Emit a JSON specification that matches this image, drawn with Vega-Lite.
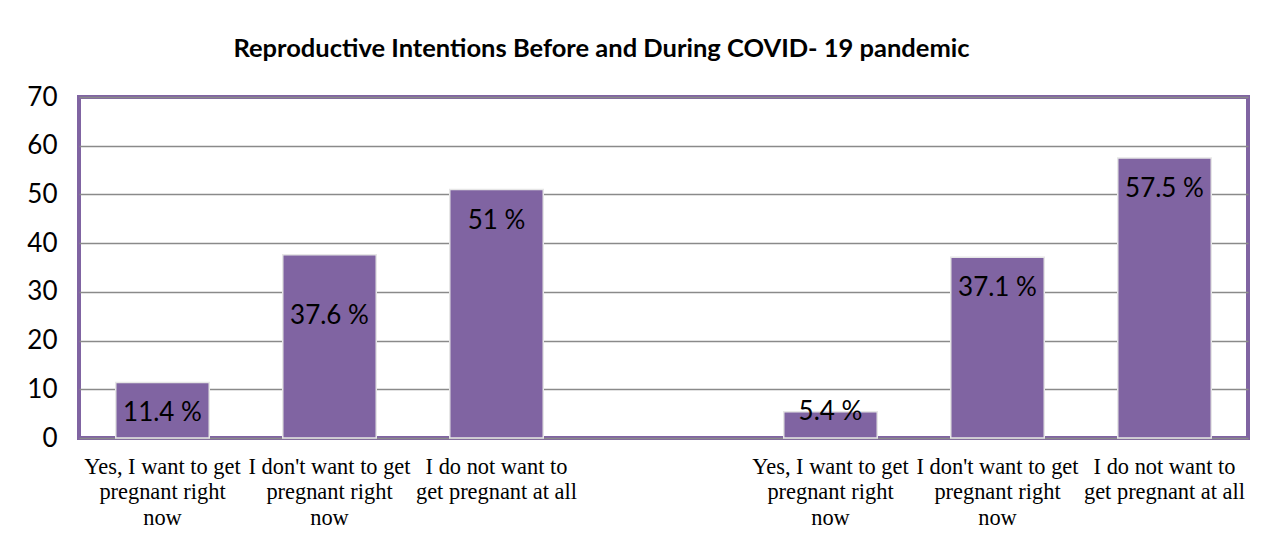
{
  "$schema": "https://vega.github.io/schema/vega-lite/v6.json",
  "autosize": {"type": "none"},
  "width": 1169,
  "height": 341,
  "padding": {"left": 79, "top": 97, "right": 21, "bottom": 104},
  "background": "white",
  "title": {
    "text": "Reproductive Intentions Before and During COVID- 19 pandemic",
    "font": "Lato",
    "fontSize": 25.5,
    "fontWeight": "bold",
    "color": "#000000",
    "anchor": "middle",
    "dx": -62,
    "offset": 22
  },
  "data": {
    "values": [
      {"cat": "1:Yes, I want to get|pregnant right|now", "value": 11.4, "label": "11.4 %"},
      {"cat": "2:I don't want to get|pregnant right|now", "value": 37.6, "label": "37.6 %"},
      {"cat": "3:I do not want to|get pregnant at all", "value": 51, "label": "51 %"},
      {"cat": "5:Yes, I want to get|pregnant right|now", "value": 5.4, "label": "5.4 %"},
      {"cat": "6:I don't want to get|pregnant right|now", "value": 37.1, "label": "37.1 %"},
      {"cat": "7:I do not want to|get pregnant at all", "value": 57.5, "label": "57.5 %"}
    ]
  },
  "encoding": {
    "x": {
      "field": "cat",
      "type": "nominal",
      "scale": {
        "domain": [
          "1:Yes, I want to get|pregnant right|now",
          "2:I don't want to get|pregnant right|now",
          "3:I do not want to|get pregnant at all",
          "4:",
          "5:Yes, I want to get|pregnant right|now",
          "6:I don't want to get|pregnant right|now",
          "7:I do not want to|get pregnant at all"
        ],
        "paddingInner": 0.44,
        "paddingOuter": 0.22
      },
      "axis": {
        "title": null,
        "labelAngle": 0,
        "labelExpr": "split(substring(datum.value, 2), '|')",
        "labelFont": "Liberation Serif",
        "labelFontSize": 22.4,
        "labelColor": "#000000",
        "labelLineHeight": 25.5,
        "labelBaseline": "top",
        "labelPadding": 17,
        "ticks": false,
        "domain": false,
        "labelLimit": 300
      }
    },
    "y": {
      "field": "value",
      "type": "quantitative",
      "scale": {"domain": [0, 70], "nice": false},
      "axis": {
        "title": null,
        "values": [0, 10, 20, 30, 40, 50, 60, 70],
        "labelFont": "Lato",
        "labelFontSize": 26,
        "labelColor": "#000000",
        "labelPadding": 22,
        "ticks": false,
        "domain": false,
        "grid": true,
        "gridColor": "#8a8a8a",
        "gridWidth": 1.5
      }
    }
  },
  "layer": [
    {"mark": {"type": "bar", "color": "#8064A2", "stroke": "#e6e6e6", "strokeWidth": 1.5}},
    {
      "transform": [{"filter": "datum.value > 10 && datum.label != '37.6 %'"}],
      "mark": {"type": "text", "font": "Lato", "fontSize": 26, "color": "#000000", "baseline": "middle", "dy": 31},
      "encoding": {"text": {"field": "label"}}
    },
    {
      "transform": [{"filter": "datum.label == '37.6 %'"}],
      "mark": {"type": "text", "font": "Lato", "fontSize": 26, "color": "#000000", "baseline": "middle", "dy": 61},
      "encoding": {"text": {"field": "label"}}
    },
    {
      "transform": [{"filter": "datum.value < 10"}],
      "mark": {"type": "text", "font": "Lato", "fontSize": 26, "color": "#000000", "baseline": "middle", "dy": 0},
      "encoding": {"text": {"field": "label"}}
    }
  ],
  "config": {
    "view": {"stroke": "#8064A2", "strokeWidth": 4}
  }
}
